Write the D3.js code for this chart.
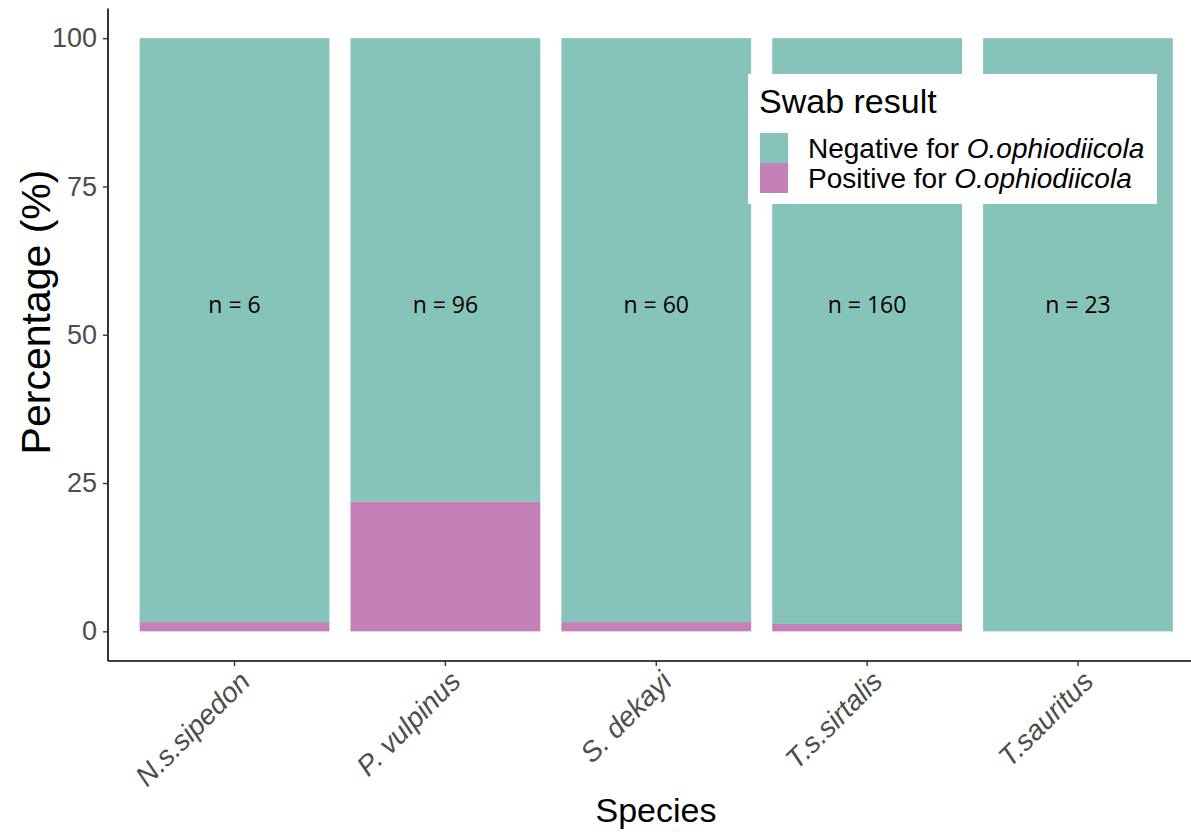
<!DOCTYPE html>
<html>
<head>
<meta charset="utf-8">
<script src="https://cdn.jsdelivr.net/npm/d3@7"></script>
<style>
  html, body { margin: 0; padding: 0; background: #fff; }
  svg { display: block; }
</style>
</head>
<body>
<svg id="chart" width="1191" height="834"></svg>
<script>
// Species sampled and swab outcomes (percent of animals per species)
const species = ["N.s.sipedon", "P. vulpinus", "S. dekayi", "T.s.sirtalis", "T.sauritus"];
const positivePct = [1.55, 21.875, 1.55, 1.25, 0];
const negativePct = positivePct.map(p => 100 - p);
const sampleSizes = [6, 96, 60, 160, 23];
const yTicks = [0, 25, 50, 75, 100];
const legendLabels = ["Negative for ", "Positive for "];
const pathogen = "O.ophiodiicola";

const colNeg = "#86C4B9";
const colPos = "#C381B8";
const sansFont = "'Liberation Sans', Arial, sans-serif";

const svg = d3.select("#chart");
const plotLeft = 108, plotRight = 1204.5, plotTop = 8.5, plotBottom = 661;

// Discrete axis with ggplot-style 0.6 expansion on both sides
const step = (plotRight - plotLeft) / (species.length - 1 + 1.2);
const x = d3.scaleBand()
  .domain(species)
  .range([plotLeft + 0.6 * step - step / 2, plotRight - 0.6 * step + step / 2])
  .paddingInner(0.1)
  .paddingOuter(0.05);

const y = d3.scaleLinear().domain([-5, 105]).range([plotBottom, plotTop]);

const rows = species.map((s, i) => ({
  s, pos: positivePct[i], neg: negativePct[i], n: sampleSizes[i]
}));

const bars = svg.append("g");
// negative share stacked on top of positive share
bars.selectAll("rect.neg").data(rows).join("rect")
  .attr("class", "neg")
  .attr("x", d => x(d.s))
  .attr("width", x.bandwidth())
  .attr("y", d => y(d.pos + d.neg))
  .attr("height", d => y(d.pos) - y(d.pos + d.neg))
  .attr("fill", colNeg);
bars.selectAll("rect.pos").data(rows.filter(d => d.pos > 0)).join("rect")
  .attr("class", "pos")
  .attr("x", d => x(d.s))
  .attr("width", x.bandwidth())
  .attr("y", d => y(d.pos))
  .attr("height", d => y(0) - y(d.pos))
  .attr("fill", colPos);

// sample size annotations
svg.append("g").selectAll("text").data(rows).join("text")
  .attr("x", d => x(d.s) + x.bandwidth() / 2)
  .attr("y", y(55))
  .attr("dy", "0.35em")
  .attr("text-anchor", "middle")
  .attr("font-family", "'Open Sans', sans-serif")
  .attr("font-size", 23)
  .attr("fill", "#000")
  .text(d => `n = ${d.n}`);

// y axis
const yAxis = svg.append("g")
  .attr("transform", `translate(${plotLeft},0)`)
  .call(d3.axisLeft(y).tickValues(yTicks).tickSize(5).tickPadding(6));
yAxis.select(".domain").attr("d", `M0,${plotTop}V${plotBottom}`).attr("stroke", "#000").attr("stroke-width", 1.6);
yAxis.selectAll(".tick line").attr("stroke", "#333").attr("stroke-width", 1.4);
yAxis.selectAll(".tick text")
  .attr("font-family", sansFont)
  .attr("font-size", 27)
  .attr("fill", "#4D4D4D");

// x axis
const xAxis = svg.append("g")
  .attr("transform", `translate(0,${plotBottom})`)
  .call(d3.axisBottom(x).tickSize(5).tickPadding(4));
xAxis.select(".domain").attr("d", `M${plotLeft},0H${plotRight}`).attr("stroke", "#000").attr("stroke-width", 1.6);
xAxis.selectAll(".tick line").attr("stroke", "#333").attr("stroke-width", 1.4);
xAxis.selectAll(".tick text")
  .attr("font-family", sansFont)
  .attr("font-style", "italic")
  .attr("font-size", 28)
  .attr("fill", "#4D4D4D")
  .attr("text-anchor", "end")
  .attr("dy", null)
  .attr("y", 0)
  .attr("transform", "translate(3,8) rotate(-45)")
  .attr("dominant-baseline", "hanging");

// axis titles
svg.append("text")
  .attr("x", 656)
  .attr("y", 822)
  .attr("text-anchor", "middle")
  .attr("font-family", sansFont)
  .attr("font-size", 34)
  .attr("fill", "#000")
  .text("Species");
svg.append("text")
  .attr("transform", `translate(50,312) rotate(-90)`)
  .attr("text-anchor", "middle")
  .attr("font-family", sansFont)
  .attr("font-size", 41)
  .attr("fill", "#000")
  .text("Percentage (%)");

// legend
const lg = svg.append("g").attr("transform", "translate(748,74)");
lg.append("rect").attr("width", 409).attr("height", 130).attr("fill", "#fff");
lg.append("text")
  .attr("x", 11).attr("y", 39)
  .attr("font-family", sansFont)
  .attr("font-size", 34)
  .attr("fill", "#000")
  .text("Swab result");
const keyCols = [colNeg, colPos];
legendLabels.forEach((lab, i) => {
  const ky = 59 + i * 30;
  lg.append("rect").attr("x", 12).attr("y", ky).attr("width", 28).attr("height", 30).attr("fill", keyCols[i]);
  const t = lg.append("text")
    .attr("x", 60).attr("y", ky + 15).attr("dy", "0.35em")
    .attr("font-family", sansFont)
    .attr("font-size", 28)
    .attr("fill", "#000");
  t.append("tspan").text(lab);
  t.append("tspan").attr("font-style", "italic").text(pathogen);
});
</script>
</body>
</html>
